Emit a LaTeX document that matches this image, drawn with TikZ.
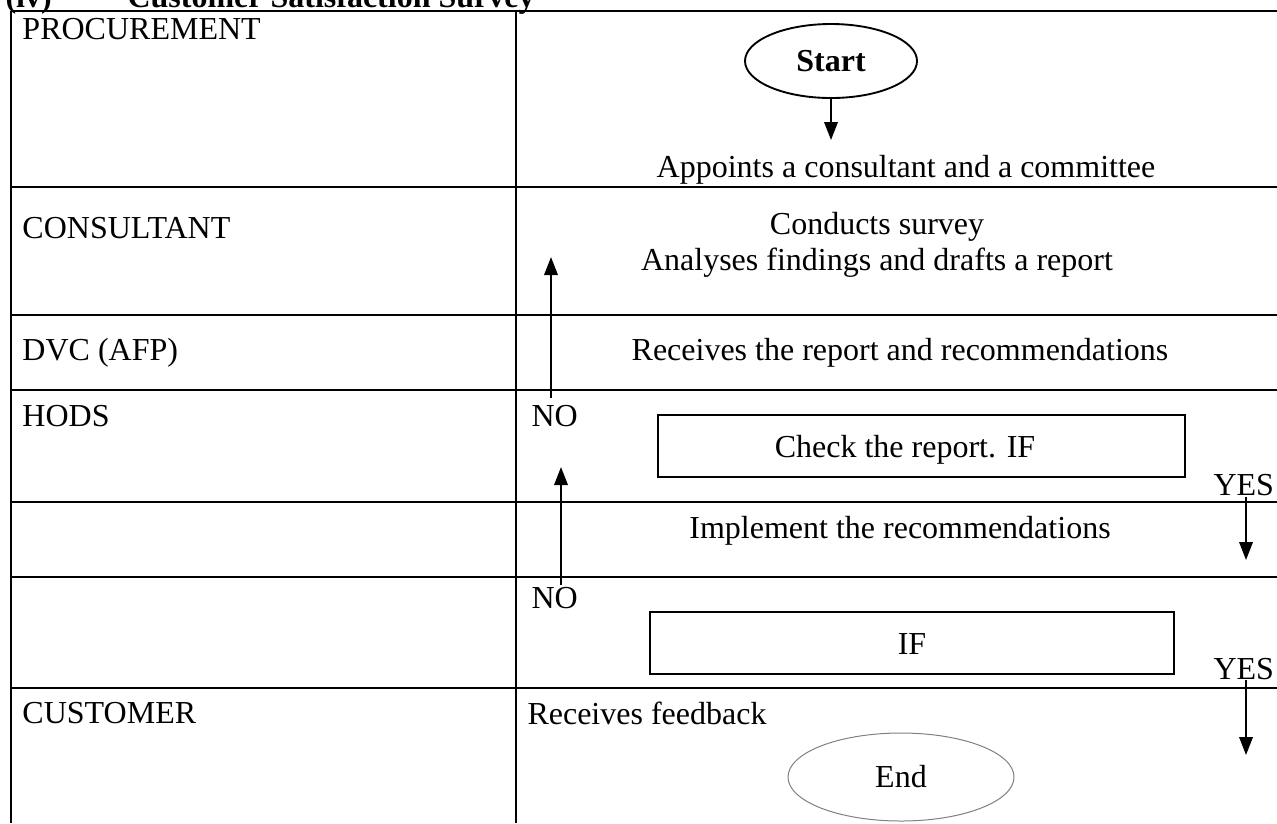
\documentclass[tikz,border=0pt]{standalone}
\usepackage{fontspec}
\setmainfont{Liberation Serif}
\usetikzlibrary{shapes.geometric,arrows.meta}
\tikzset{
  txt/.style={font=\fontsize{12.8}{15}\selectfont, inner sep=0pt},
  lbl/.style={txt, anchor=west},
  grid/.style={line width=0.85pt},
  boxstyle/.style={draw, line width=0.75pt, inner sep=0pt},
  arr/.style={line width=0.8pt, -{Triangle[width=5.4pt,length=7.2pt]}},
}
\begin{document}
\begin{tikzpicture}[x=0.4pt,y=-0.4pt]
\useasboundingbox (0,0) rectangle (1277,823);
% title (clipped at top, as in the reference)
\node[txt, anchor=base west, font=\fontsize{12.8}{15}\selectfont\bfseries] (ttl1) at (5,7) {(iv)};
\node[txt, anchor=base west, font=\fontsize{12.8}{15}\selectfont\bfseries] (ttl2) at (127,7) {Customer Satisfaction Survey};
% table grid
\draw[grid] (11,11) -- (1277,11);
\foreach \yy in {187,315,390,502,577,688} \draw[grid] (11,\yy) -- (1277,\yy);
\draw[grid] (11,11) -- (11,823);
\draw[grid] (516,11) -- (516,823);
% lane labels
\node[lbl] (procurement) at (22,29) {PROCUREMENT};
\node[lbl] (consultant) at (22,228) {CONSULTANT};
\node[lbl] (dvc) at (22,353) {DVC (AFP)};
\node[lbl] (hods) at (22,416) {HODS};
\node[lbl] (customer) at (22,713) {CUSTOMER};
% flow
\node[ellipse, draw, line width=0.75pt, minimum width=68.8pt, minimum height=29.6pt, inner sep=0pt,
      font=\fontsize{12.8}{15}\selectfont\bfseries] (start) at (831,61) {Start};
\coordinate (appin) at (831,140);
\node[txt] (appoint) at (906,170) {Appoints a consultant and a committee};
\node[txt] (survey) at (877,227) {Conducts survey};
\node[txt] (analyse) at (877,263) {Analyses findings and drafts a report};
\node[txt] (receives) at (900,353) {Receives the report and recommendations};
\node[lbl] (no1) at (531,416) {NO};
\node[boxstyle, minimum width=210.8pt, minimum height=24.8pt, txt] (check) at (921.5,446) {};
\node[txt] (checktxt) at (905,450) {Check the report. IF};
\node[lbl] (yes1) at (1213,485) {YES};
\node[txt] (implement) at (900,531) {Implement the recommendations};
\node[lbl] (no2) at (531,598) {NO};
\node[boxstyle, minimum width=209.6pt, minimum height=24.8pt, txt] (ifbox) at (912,643) {};
\node[txt] (iftxt) at (912,644) {IF};
\node[lbl] (yes2) at (1213,669) {YES};
\node[lbl] (feedback) at (527,713) {Receives feedback};
\node[ellipse, draw=gray, line width=0.4pt, minimum width=90.4pt, minimum height=35.2pt, inner sep=0pt,
      font=\fontsize{12.8}{15}\selectfont] (end) at (901,777) {End};
% connectors
\draw[arr] (start.south) -- (appin);
\coordinate (no1from) at (551,398);
\coordinate (no1to) at (551,257);
\draw[arr] (no1from) -- (no1to);
\coordinate (no2from) at (561,585);
\coordinate (no2to) at (561,467);
\draw[arr] (no2from) -- (no2to);
\coordinate (yes1from) at (1246,497);
\coordinate (yes1to) at (1246,560);
\draw[arr] (yes1from) -- (yes1to);
\coordinate (yes2from) at (1246,680);
\coordinate (yes2to) at (1246,755);
\draw[arr] (yes2from) -- (yes2to);
\end{tikzpicture}
\end{document}
